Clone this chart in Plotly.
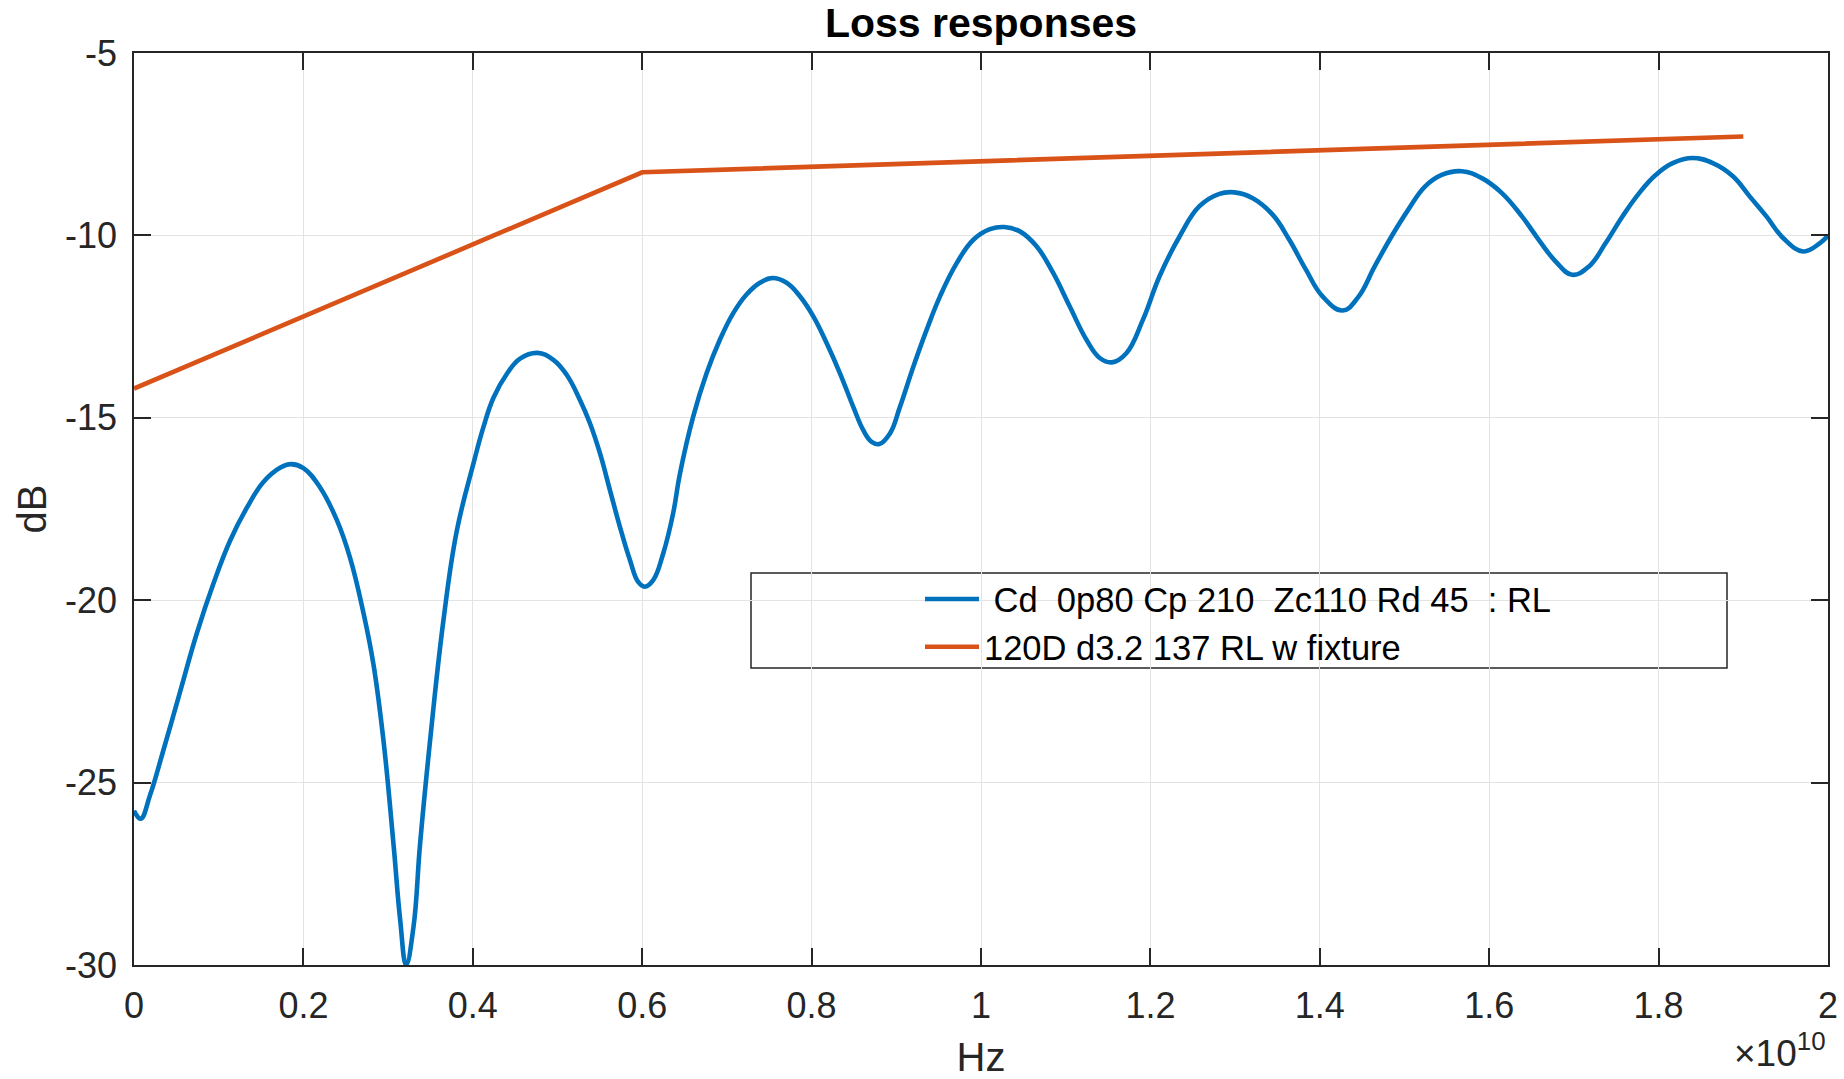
import plotly.graph_objects as go

# ---- data (frequency in units of 1e10 Hz, response in dB) ----
rl_freq_e10 = [0.0, 0.0079, 0.0189, 0.0346, 0.0543, 0.0740, 0.0937, 0.1134, 0.1331, 0.1528,
               0.1724, 0.1854, 0.2000, 0.2197, 0.2394, 0.2551, 0.2709, 0.2827, 0.2945, 0.3063,
               0.3142, 0.3213, 0.3300, 0.3378, 0.3496, 0.3654, 0.3811, 0.4008, 0.4126, 0.4244,
               0.4401, 0.4558, 0.4762, 0.4951, 0.5108, 0.5265, 0.5383, 0.5501, 0.5619, 0.5737,
               0.5855, 0.5953, 0.6031, 0.6130, 0.6248, 0.6365, 0.6444, 0.6602, 0.6760, 0.6917,
               0.7075, 0.7232, 0.7390, 0.7531, 0.7705, 0.7862, 0.8020, 0.8177, 0.8335, 0.8492,
               0.8610, 0.8709, 0.8799, 0.8925, 0.9043, 0.9201, 0.9358, 0.9516, 0.9713, 0.9910,
               1.0106, 1.0275, 1.0459, 1.0656, 1.0852, 1.1048, 1.1245, 1.1402, 1.1547, 1.1716,
               1.1912, 1.2108, 1.2344, 1.2579, 1.2815, 1.2992, 1.3208, 1.3443, 1.3640, 1.3836,
               1.4032, 1.4268, 1.4451, 1.4648, 1.4846, 1.5043, 1.5241, 1.5439, 1.5676, 1.5913,
               1.6150, 1.6387, 1.6585, 1.6783, 1.6980, 1.7178, 1.7375, 1.7573, 1.7771, 1.7968,
               1.8166, 1.8403, 1.8640, 1.8877, 1.9075, 1.9273, 1.9470, 1.9708, 1.9905, 2.0]
rl_db = [-25.77, -25.99, -25.35, -24.12, -22.52, -20.92, -19.55, -18.37, -17.47, -16.76,
         -16.37, -16.27, -16.38, -16.91, -17.80, -18.84, -20.35, -21.76, -23.84, -26.67,
         -28.75, -30.0, -28.95, -26.67, -23.84, -20.54, -18.10, -16.25, -15.25, -14.45,
         -13.80, -13.38, -13.22, -13.41, -13.82, -14.51, -15.15, -15.97, -16.98, -17.99,
         -18.90, -19.50, -19.63, -19.45, -18.72, -17.62, -16.55, -14.97, -13.78, -12.86,
         -12.13, -11.62, -11.30, -11.17, -11.30, -11.67, -12.22, -12.95, -13.78, -14.70,
         -15.34, -15.66, -15.72, -15.43, -14.70, -13.60, -12.59, -11.67, -10.76, -10.12,
         -9.83, -9.77, -9.89, -10.30, -11.03, -11.95, -12.86, -13.36, -13.48, -13.23,
         -12.31, -11.12, -10.03, -9.20, -8.86, -8.82, -8.98, -9.43, -10.12, -10.94,
         -11.67, -12.06, -11.70, -10.85, -10.03, -9.30, -8.66, -8.34, -8.24, -8.43,
         -8.84, -9.48, -10.12, -10.71, -11.08, -10.85, -10.21, -9.48, -8.84, -8.34,
         -8.02, -7.88, -8.02, -8.38, -8.93, -9.48, -10.07, -10.44, -10.21, -10.0]

spec_freq_e10 = [0.0, 0.6, 1.9]
spec_db = [-14.2, -8.27, -7.29]

x_tick_vals_e10 = [0, 0.2, 0.4, 0.6, 0.8, 1.0, 1.2, 1.4, 1.6, 1.8, 2.0]
x_tick_text = ["0", "0.2", "0.4", "0.6", "0.8", "1", "1.2", "1.4", "1.6", "1.8", "2"]
y_tick_vals = [-30, -25, -20, -15, -10, -5]
y_tick_text = ["-30", "-25", "-20", "-15", "-10", "-5"]

name_rl = "\u00a0Cd\u00a0\u00a00p80 Cp 210\u00a0\u00a0Zc110 Rd 45\u00a0\u00a0: RL"
name_spec = "120D d3.2 137 RL w fixture"

SCALE = 1e10
FONT = "Liberation Sans, Arial, Helvetica, sans-serif"
AX = "#262626"

fig = go.Figure()
fig.add_trace(go.Scatter(
    x=[v * SCALE for v in rl_freq_e10], y=rl_db, mode="lines", name=name_rl,
    line=dict(color="#0072BD", width=4.6, shape="spline", smoothing=1.2),
))
fig.add_trace(go.Scatter(
    x=[v * SCALE for v in spec_freq_e10], y=spec_db, mode="lines", name=name_spec,
    line=dict(color="#D95319", width=4.6),
))

W, H = 1844, 1079
L, R, T, B = 134, 16, 53, 114
pw, ph = W - L - R, H - T - B


def px(xp):
    return (xp - L) / pw


def py(yp):
    return (H - B - yp) / ph


axis_common = dict(
    showgrid=True, gridcolor="#e3e3e3", gridwidth=1,
    showline=True, linecolor=AX, linewidth=1.6, mirror="ticks",
    ticks="inside", ticklen=17, tickwidth=1.6, tickcolor=AX,
    zeroline=False, automargin=False,
    tickfont=dict(family=FONT, size=36, color=AX),
)

fig.update_layout(
    width=W, height=H,
    margin=dict(l=L, r=R, t=T, b=B, autoexpand=False),
    paper_bgcolor="white", plot_bgcolor="white",
    font=dict(family=FONT, color=AX),
    title=dict(text="<b>Loss responses</b>", font=dict(family=FONT, size=41, color="black"),
               x=0.5, xref="paper", y=1 - 23 / H, yref="container", yanchor="middle"),
    xaxis=dict(range=[0, 2 * SCALE], tickvals=[v * SCALE for v in x_tick_vals_e10],
               ticktext=x_tick_text, ticklabelstandoff=8,
               title=dict(text="Hz", font=dict(family=FONT, size=40, color=AX), standoff=22),
               **axis_common),
    yaxis=dict(range=[-30, -5], tickvals=y_tick_vals, ticktext=y_tick_text,
               ticklabelstandoff=8,
               title=dict(text="dB", font=dict(family=FONT, size=40, color=AX), standoff=6),
               **axis_common),
    legend=dict(x=px(920), y=py(570), xanchor="left", yanchor="top",
                bgcolor="rgba(0,0,0,0)", borderwidth=0,
                font=dict(family=FONT, size=34.5, color="black"), itemwidth=54,
                tracegroupgap=0),
    showlegend=True,
    shapes=[dict(type="rect", xref="paper", yref="paper",
                 x0=px(751), x1=px(1727), y0=py(668), y1=py(573),
                 line=dict(color="#262626", width=1.5), fillcolor="white", layer="below")],
    annotations=[dict(text="\u00d710<sup>10</sup>", xref="paper", yref="paper",
                      x=1.0, y=py(1076), xanchor="right", yanchor="bottom", showarrow=False,
                      font=dict(family=FONT, size=37, color=AX))],
)

fig.write_html("out.html")
